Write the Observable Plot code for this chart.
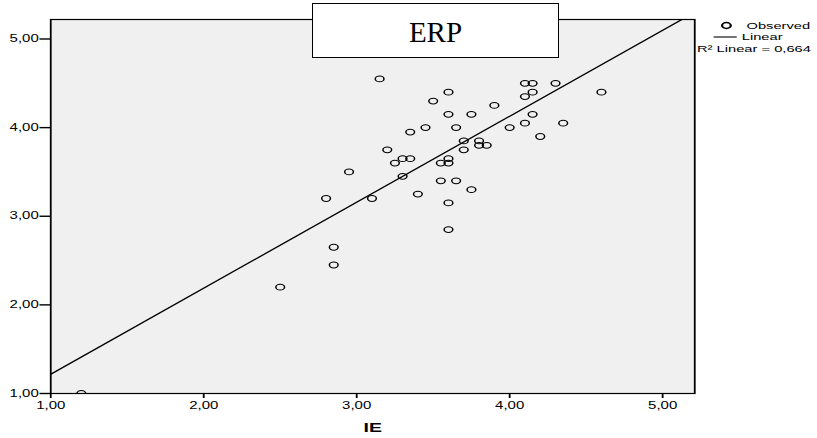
<!DOCTYPE html>
<html>
<head>
<meta charset="utf-8">
<script src="https://cdn.jsdelivr.net/npm/d3@7"></script>
<script src="https://cdn.jsdelivr.net/npm/@observablehq/plot@0.6"></script>
<style>
  html, body { margin: 0; padding: 0; background: #fff; }
  #wrap { position: relative; width: 817px; height: 438px; overflow: hidden; }
  #stretch { position: absolute; left: 0; top: 0; transform: scaleX(1.5); transform-origin: 0 0; }
  #title {
    position: absolute; left: 312px; top: 3px; width: 247px; height: 55px; box-sizing: border-box;
    border: 1.5px solid #000; background: #fff;
    font-family: "Liberation Serif", "Times New Roman", serif; font-size: 29px; color: #000;
    display: flex; align-items: center; justify-content: center; padding-top: 4px;
  }
</style>
</head>
<body>
<div id="wrap">
  <div id="stretch"></div>
  <div id="title">ERP</div>
</div>
<script>
const ie  = [3.15,4.10,4.15,4.30,3.60,4.15,3.50,4.10,3.90,3.60,3.75,4.15,3.45,3.65,4.00,4.10,3.35,4.20,3.70,3.80,3.80,3.85,3.70,3.20,3.30,3.35,3.25,3.60,3.55,3.60,2.95,3.30,3.55,3.65,3.75,3.40,2.80,3.10,3.60,3.60,2.85,2.85,2.50,1.20,4.60,4.35];
const erp = [4.55,4.50,4.50,4.50,4.40,4.40,4.30,4.35,4.25,4.15,4.15,4.15,4.00,4.00,4.00,4.05,3.95,3.90,3.85,3.85,3.80,3.80,3.75,3.75,3.65,3.65,3.60,3.65,3.60,3.60,3.50,3.45,3.40,3.40,3.30,3.25,3.20,3.20,3.15,2.85,2.65,2.45,2.20,1.00,4.40,4.05];

// Linear fit and axis settings
const fitIntercept = 0.248;
const fitSlope = 0.970;
const xDomain = [1, 5.21];
const yDomain = [1, 5.22];
const xTicks = [1, 2, 3, 4, 5];
const yTicks = [1, 2, 3, 4, 5];
const xLabel = "IE";
const legendLabels = ["Observed", "Linear", "R\u00B2 Linear = 0,664"];

const fmt = d => d.toFixed(2).replace(".", ",");
const points = ie.map((x, i) => ({x, y: erp[i]}));
const fitLine = xDomain.map(x => ({x, y: fitIntercept + fitSlope * x}));

const lineSymbol = { draw(ctx) { ctx.moveTo(-7.7, 0); ctx.lineTo(7.7, 0); } };

const chart = Plot.plot({
  width: 545,
  height: 438,
  marginLeft: 33.33,
  marginRight: 82.33,
  marginTop: 19,
  marginBottom: 45,
  style: { fontFamily: "'Liberation Sans', Arial, sans-serif", fontSize: "10px", color: "#000", background: "transparent", overflow: "visible" },
  x: { domain: xDomain },
  y: { domain: yDomain },
  marks: [
    Plot.frame({ fill: "#f0f0f0", stroke: null }),
    Plot.axisX({ ticks: xTicks, tickFormat: fmt, tickSize: 5, tickPadding: 3, label: null, strokeWidth: 1.2 }),
    Plot.axisY({ ticks: yTicks, tickFormat: fmt, tickSize: 7, tickPadding: 1, label: null, strokeWidth: 1.4 }),
    Plot.line(fitLine, { x: "x", y: "y", stroke: "#000", strokeWidth: 1.2, clip: true }),
    Plot.dot(points, { x: "x", y: "y", r: 2.9, stroke: "#000", strokeWidth: 1, fill: "none", clip: true }),
    Plot.frame({ stroke: "#000", strokeWidth: 1.2 }),
    Plot.text([xLabel], { frameAnchor: "bottom", lineAnchor: "middle", dy: 34, fontWeight: "bold", fontSize: 13 }),
    // legend
    Plot.dot([legendLabels[0]], { frameAnchor: "top-right", dx: 21.1, dy: 6, r: 2.9, stroke: "#000", fill: "none" }),
    Plot.text([legendLabels[0]], { frameAnchor: "top-right", lineAnchor: "middle", dx: 34.5, dy: 6, textAnchor: "start", fontSize: 9.8 }),
    Plot.dot([legendLabels[1]], { frameAnchor: "top-right", dx: 20.3, dy: 17.5, symbol: lineSymbol, stroke: "#000", strokeWidth: 1.1 }),
    Plot.text([legendLabels[1]], { frameAnchor: "top-right", lineAnchor: "middle", dx: 31.3, dy: 17.5, textAnchor: "start", fontSize: 9.8 }),
    Plot.text([legendLabels[2]], { frameAnchor: "top-right", lineAnchor: "middle", dx: 1.5, dy: 29.5, textAnchor: "start", fontSize: 9.8 })
  ]
});
document.getElementById("stretch").appendChild(chart);
</script>
</body>
</html>
